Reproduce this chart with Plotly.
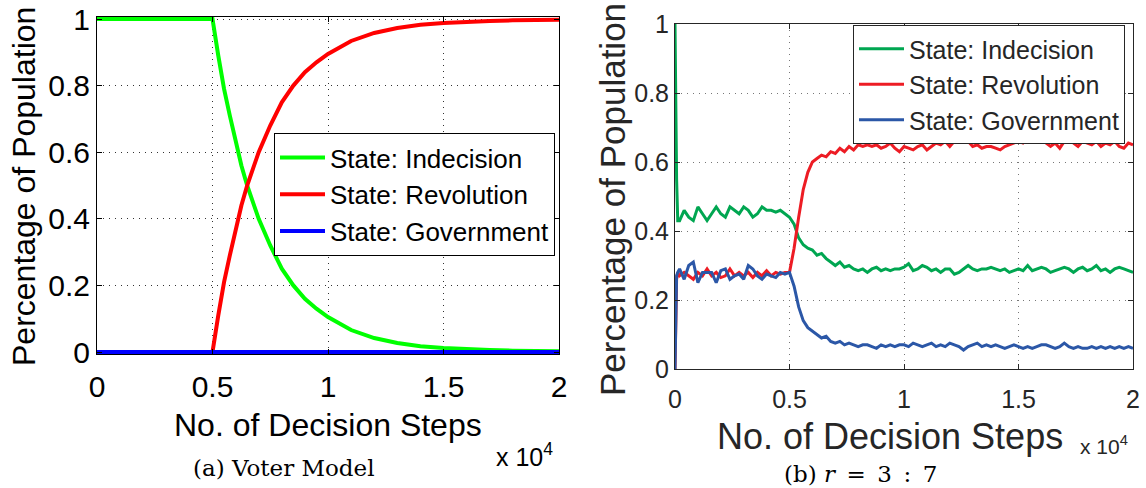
import plotly.graph_objects as go

# ---------------- Panel (a): Voter Model ----------------
steps_a = [0, 0.5, 0.525, 0.55, 0.575, 0.6, 0.625, 0.65, 0.675, 0.7, 0.75, 0.8, 0.85, 0.9, 0.95,
           1.0, 1.1, 1.2, 1.3, 1.4, 1.5, 1.6, 1.7, 1.8, 1.9, 2.0]
indecision_a = [1, 1, 0.89, 0.79, 0.71, 0.63, 0.56, 0.50, 0.45, 0.40, 0.32, 0.25, 0.20, 0.16, 0.13,
                0.105, 0.066, 0.042, 0.027, 0.017, 0.012, 0.008, 0.006, 0.004, 0.003, 0.002]
revolution_a = [0, 0, 0.11, 0.21, 0.29, 0.37, 0.44, 0.50, 0.55, 0.60, 0.68, 0.75, 0.80, 0.84, 0.87,
                0.895, 0.934, 0.958, 0.973, 0.983, 0.988, 0.992, 0.994, 0.996, 0.997, 0.998]
government_a = [0, 0, 0, 0, 0, 0, 0, 0, 0, 0, 0, 0, 0, 0, 0,
                0, 0, 0, 0, 0, 0, 0, 0, 0, 0, 0]

# ---------------- Panel (b): r = 3:7 ----------------
steps_b = [0, 0.003, 0.007, 0.012,
           0.02, 0.04, 0.06, 0.08, 0.10, 0.12, 0.14, 0.16, 0.18, 0.20,
           0.22, 0.24, 0.26, 0.28, 0.30, 0.32, 0.34, 0.36, 0.38, 0.40,
           0.42, 0.44, 0.46, 0.48, 0.50, 0.52, 0.54, 0.56, 0.58, 0.60,
           0.62, 0.64, 0.66, 0.68, 0.70, 0.72, 0.74, 0.76, 0.78, 0.80,
           0.82, 0.84, 0.86, 0.88, 0.90, 0.92, 0.94, 0.96, 0.98, 1.00,
           1.02, 1.04, 1.06, 1.08, 1.10, 1.12, 1.14, 1.16, 1.18, 1.20,
           1.22, 1.24, 1.26, 1.28, 1.30, 1.32, 1.34, 1.36, 1.38, 1.40,
           1.42, 1.44, 1.46, 1.48, 1.50, 1.52, 1.54, 1.56, 1.58, 1.60,
           1.62, 1.64, 1.66, 1.68, 1.70, 1.72, 1.74, 1.76, 1.78, 1.80,
           1.82, 1.84, 1.86, 1.88, 1.90, 1.92, 1.94, 1.96, 1.98, 2.00]
indecision_b = [1, 0.77, 0.55, 0.43,
                0.43, 0.46, 0.44, 0.43, 0.47, 0.45, 0.43, 0.45, 0.47, 0.45,
                0.44, 0.47, 0.46, 0.45, 0.47, 0.46, 0.44, 0.45, 0.47, 0.46,
                0.46, 0.455, 0.46, 0.45, 0.44, 0.42, 0.38, 0.36, 0.35, 0.345,
                0.33, 0.335, 0.32, 0.31, 0.30, 0.31, 0.295, 0.30, 0.29, 0.285,
                0.29, 0.28, 0.29, 0.295, 0.285, 0.29, 0.285, 0.29, 0.29, 0.295,
                0.305, 0.285, 0.29, 0.30, 0.295, 0.285, 0.29, 0.28, 0.29, 0.29,
                0.275, 0.28, 0.29, 0.30, 0.29, 0.285, 0.29, 0.29, 0.295, 0.29,
                0.285, 0.29, 0.28, 0.285, 0.29, 0.285, 0.30, 0.285, 0.29, 0.295,
                0.29, 0.28, 0.285, 0.29, 0.295, 0.29, 0.28, 0.29, 0.295, 0.285,
                0.29, 0.30, 0.285, 0.29, 0.28, 0.29, 0.295, 0.29, 0.285, 0.28]
revolution_b = [0, 0.15, 0.26, 0.28,
                0.27, 0.28, 0.27, 0.26, 0.28, 0.27, 0.29, 0.27, 0.28, 0.265,
                0.27, 0.29, 0.27, 0.28, 0.27, 0.28, 0.265, 0.28, 0.27, 0.285,
                0.27, 0.28, 0.275, 0.28, 0.28, 0.35, 0.44, 0.52, 0.57, 0.60,
                0.61, 0.62, 0.615, 0.63, 0.625, 0.64, 0.63, 0.645, 0.635, 0.65,
                0.645, 0.65, 0.645, 0.65, 0.64, 0.645, 0.655, 0.64, 0.63, 0.645,
                0.64, 0.635, 0.645, 0.65, 0.635, 0.645, 0.655, 0.65, 0.66, 0.645,
                0.66, 0.665, 0.675, 0.66, 0.645, 0.65, 0.64, 0.645, 0.645, 0.64,
                0.635, 0.645, 0.65, 0.655, 0.66, 0.655, 0.665, 0.67, 0.665, 0.675,
                0.655, 0.645, 0.655, 0.64, 0.66, 0.665, 0.655, 0.645, 0.66, 0.655,
                0.65, 0.66, 0.645, 0.655, 0.65, 0.66, 0.645, 0.64, 0.655, 0.65]
government_b = [0, 0.20, 0.27, 0.28,
                0.29, 0.26, 0.30, 0.31, 0.25, 0.28, 0.28, 0.28, 0.25, 0.285,
                0.29, 0.26, 0.27, 0.275, 0.26, 0.30, 0.29, 0.27, 0.26, 0.275,
                0.27, 0.265, 0.28, 0.275, 0.28, 0.24, 0.18, 0.14, 0.12, 0.11,
                0.10, 0.09, 0.095, 0.08, 0.075, 0.08, 0.07, 0.075, 0.07, 0.065,
                0.07, 0.07, 0.065, 0.06, 0.07, 0.065, 0.07, 0.065, 0.07, 0.07,
                0.065, 0.075, 0.07, 0.065, 0.07, 0.075, 0.065, 0.07, 0.065, 0.075,
                0.07, 0.065, 0.055, 0.065, 0.07, 0.075, 0.065, 0.07, 0.065, 0.07,
                0.065, 0.06, 0.065, 0.07, 0.065, 0.06, 0.065, 0.06, 0.065, 0.07,
                0.07, 0.065, 0.06, 0.065, 0.075, 0.065, 0.06, 0.065, 0.06, 0.06,
                0.065, 0.06, 0.065, 0.06, 0.065, 0.06, 0.065, 0.06, 0.065, 0.06]

names = ["State: Indecision", "State: Revolution", "State: Government"]
x_ticks = [0, 0.5, 1, 1.5, 2]
x_ticktext = ["0", "0.5", "1", "1.5", "2"]
y_ticks = [0, 0.2, 0.4, 0.6, 0.8, 1]
y_ticktext = ["0", "0.2", "0.4", "0.6", "0.8", "1"]

colors_a = ["#00ff00", "#ff0000", "#0000ff"]
colors_b = ["#00a651", "#ed1c24", "#2b57a7"]

W, H = 1146, 488
SANS = "Liberation Sans, Arial, sans-serif"
SERIF = "DejaVu Serif, serif"

fig = go.Figure()
for name, ys, c in zip(names, [indecision_a, revolution_a, government_a], colors_a):
    fig.add_trace(go.Scatter(x=steps_a, y=ys, name=name, mode="lines",
                             line=dict(color=c, width=4),
                             xaxis="x", yaxis="y", legend="legend"))
for name, ys, c in zip(names, [indecision_b, revolution_b, government_b], colors_b):
    fig.add_trace(go.Scatter(x=steps_b, y=ys, name=name, mode="lines",
                             line=dict(color=c, width=3),
                             xaxis="x2", yaxis="y2", legend="legend2"))

def px_x(p):
    return p / W

def px_y(p):
    return 1 - p / H

axis_common = dict(showline=True, mirror="ticks", ticks="inside", ticklen=5, automargin=False,
                   showgrid=True, griddash="1px,5px", zeroline=False, fixedrange=True)

fig.update_layout(
    width=W, height=H, margin=dict(l=0, r=0, t=0, b=0, autoexpand=False),
    paper_bgcolor="white", plot_bgcolor="white",
    xaxis=dict(domain=[px_x(97), px_x(559)], range=[0, 2], tickvals=x_ticks, ticktext=x_ticktext,
               linecolor="black", tickcolor="black", gridcolor="#333333", gridwidth=1,
               ticklabelstandoff=6,
               tickfont=dict(family=SANS, size=30, color="black"), anchor="y", **axis_common),
    yaxis=dict(domain=[px_y(354), px_y(17)], range=[-0.006, 1.006], tickvals=y_ticks, ticktext=y_ticktext,
               linecolor="black", tickcolor="black", gridcolor="#333333", gridwidth=1,
               tickfont=dict(family=SANS, size=30, color="black"), anchor="x", **axis_common),
    xaxis2=dict(domain=[px_x(675), px_x(1133)], range=[0, 2], tickvals=x_ticks, ticktext=x_ticktext,
                linecolor="#262626", tickcolor="#262626", gridcolor="#777777", gridwidth=1,
                ticklabelstandoff=8,
                tickfont=dict(family=SANS, size=25, color="#262626"), anchor="y2", **axis_common),
    yaxis2=dict(domain=[px_y(369), px_y(24)], range=[0, 1], tickvals=y_ticks, ticktext=y_ticktext,
                linecolor="#262626", tickcolor="#262626", gridcolor="#777777", gridwidth=1,
                tickfont=dict(family=SANS, size=25, color="#262626"), anchor="x2", **axis_common),
    legend=dict(x=px_x(274), y=px_y(133), xanchor="left", yanchor="top",
                bgcolor="white", bordercolor="black", borderwidth=1, itemwidth=45,
                font=dict(family=SANS, size=26, color="black"), tracegroupgap=0),
    legend2=dict(x=px_x(853), y=px_y(25), xanchor="left", yanchor="top",
                 bgcolor="white", bordercolor="#262626", borderwidth=1, itemwidth=45,
                 font=dict(family=SANS, size=25, color="#262626"), tracegroupgap=0),
    showlegend=True,
)

def note(text, x, y, size, family=SANS, color="black", angle=0, xanchor="center"):
    return dict(text=text, x=px_x(x), y=px_y(y), xref="paper", yref="paper",
                xanchor=xanchor, yanchor="middle", showarrow=False, textangle=angle,
                font=dict(family=family, size=size, color=color))

ann = [
    # Left panel texts
    note("Percentage of Population", 24, 187, 32, angle=-90),
    note("No. of Decision Steps", 328, 425, 32),
    note("x 10<sup>4</sup>", 524, 455, 25),
    note("(a) Voter Model", 284, 468, 23, family=SERIF),
    # Right panel texts
    note("Percentage of Population", 612, 200, 35, color="#262626", angle=-90),
    note("No. of Decision Steps", 890, 436, 36, color="#262626"),
    note("x 10<sup>4</sup>", 1104, 445, 21, color="#262626"),
    note("(b) <i>r</i>\u2002=\u20023\u2002:\u20027", 860, 474, 23, family=SERIF),
]
fig.update_layout(annotations=ann)

fig.write_html("out.html")
